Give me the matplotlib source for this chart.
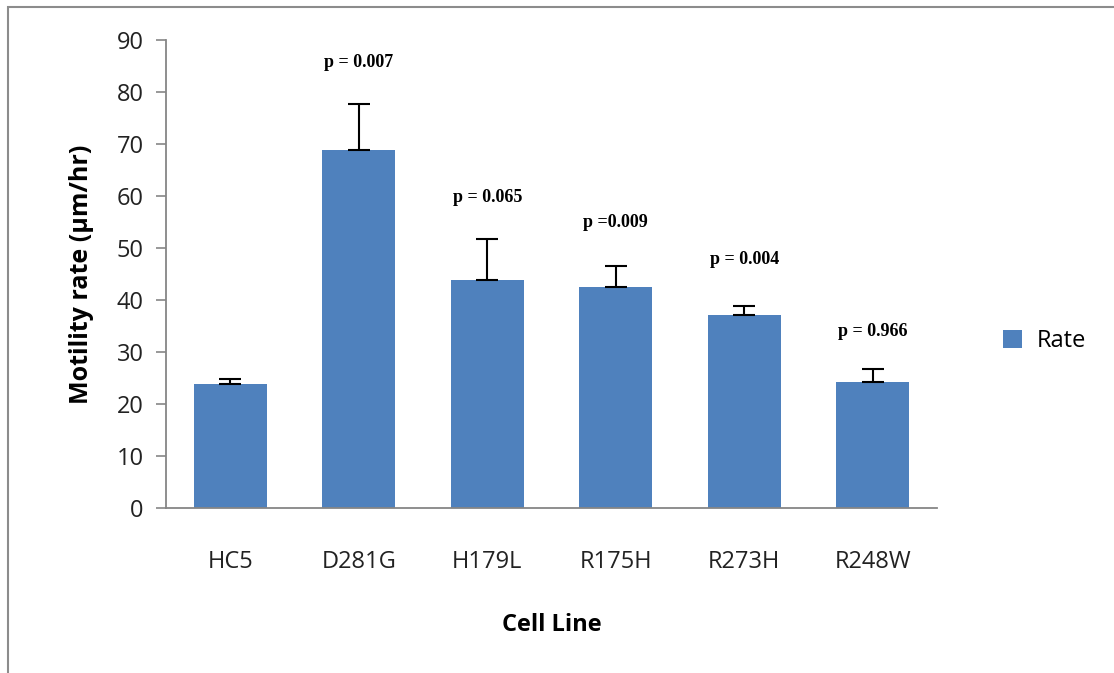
import matplotlib
matplotlib.use("Agg")
import matplotlib.pyplot as plt
from matplotlib.patches import Rectangle
import numpy as np

cell_lines = ["HC5", "D281G", "H179L", "R175H", "R273H", "R248W"]
rates = [23.8, 68.8, 43.9, 42.5, 37.2, 24.3]
errors = [1.1, 8.9, 7.9, 4.0, 1.7, 2.5]
p_labels = ["", "p = 0.007", "p = 0.065", "p =0.009", "p = 0.004", "p = 0.966"]
p_heights = [0, 85.7, 59.7, 54.9, 47.8, 33.9]

bar_color = "#4F81BD"
axis_gray = "#868686"
sans = ["Open Sans", "DejaVu Sans"]

fig = plt.figure(figsize=(11.14, 6.73), dpi=100)
ax = fig.add_axes([0.149, 0.245, 0.692, 0.6955])

x = np.arange(len(cell_lines))
ax.bar(x, rates, width=0.57, color=bar_color, label="Rate", zorder=2)
ax.errorbar(x, rates, yerr=[np.zeros(len(errors)), errors], fmt="none",
            ecolor="black", elinewidth=1.5, capsize=8, capthick=1.5, zorder=3)

for xi, txt, h in zip(x, p_labels, p_heights):
    if txt:
        ax.text(xi, h, txt, ha="center", va="center", fontsize=13,
                fontweight="bold", family="Liberation Serif")

ax.set_xlim(-0.5, len(cell_lines) - 0.5)
ax.set_ylim(0, 90)
ax.set_yticks(np.arange(0, 91, 10))
ax.set_xticks(x)
ax.set_xticklabels(cell_lines)

for side in ["top", "right"]:
    ax.spines[side].set_visible(False)
for side in ["left", "bottom"]:
    ax.spines[side].set_color(axis_gray)
    ax.spines[side].set_linewidth(1.3)

ax.tick_params(axis="y", direction="out", length=7, width=1.2, color=axis_gray,
               labelsize=17, pad=9, labelcolor="#222222")
ax.tick_params(axis="x", length=0, labelsize=17, pad=30, labelcolor="#222222")
for lab in ax.get_xticklabels() + ax.get_yticklabels():
    lab.set_family(sans)

ax.set_ylabel("Motility rate (µm/hr)", fontsize=18, fontweight="bold",
              family=sans, labelpad=16)
ax.set_xlabel("Cell Line", fontsize=17, fontweight="bold", family=sans,
              labelpad=28)

ax.legend(loc="center left", bbox_to_anchor=(0.890, 0.493),
          bbox_transform=fig.transFigure, frameon=False,
          handlelength=0.8, handleheight=0.8, handletextpad=0.6,
          borderpad=0, prop={"family": sans, "size": 17})

# outer chart border
fig.patches.append(Rectangle((8 / 1114, -0.02), 1.0, 666 / 673 + 0.02,
                             transform=fig.transFigure, fill=False,
                             edgecolor="#8c8c8c", linewidth=1.5))

fig.savefig("out.png", dpi=100)
